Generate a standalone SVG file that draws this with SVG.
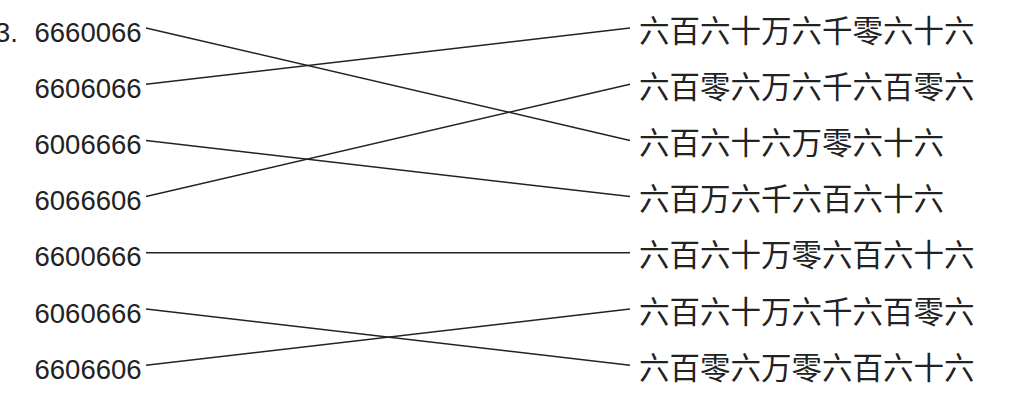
<svg xmlns="http://www.w3.org/2000/svg" width="1012" height="400" viewBox="0 0 1012 400">
<style>
.num{font-family:"Liberation Sans",Arial,sans-serif;font-size:27.5px;fill:#222}
.cn{font-family:"Noto Sans CJK SC","Noto Sans CJK JP",sans-serif;font-size:30.5px;fill:#222}
.ln{stroke:#222;stroke-width:1.5;fill:none}
</style>
<rect width="1012" height="400" fill="#fff"/>
<text class="num" x="-5" y="41.5">3.</text>
<g id="left">
<g id="L1"><text class="num" x="34.5" y="41.5">6660066</text></g>
<g id="L2"><text class="num" x="34.5" y="97.7">6606066</text></g>
<g id="L3"><text class="num" x="34.5" y="153.9">6006666</text></g>
<g id="L4"><text class="num" x="34.5" y="210.1">6066606</text></g>
<g id="L5"><text class="num" x="34.5" y="266.3">6600666</text></g>
<g id="L6"><text class="num" x="34.5" y="322.5">6060666</text></g>
<g id="L7"><text class="num" x="34.5" y="378.7">6606606</text></g>
</g>
<g id="right">
<g id="R1"><text class="cn" x="639" y="41.5">六百六十万六千零六十六</text></g>
<g id="R2"><text class="cn" x="639" y="97.7">六百零六万六千六百零六</text></g>
<g id="R3"><text class="cn" x="639" y="153.9">六百六十六万零六十六</text></g>
<g id="R4"><text class="cn" x="639" y="210.1">六百万六千六百六十六</text></g>
<g id="R5"><text class="cn" x="639" y="266.3">六百六十万零六百六十六</text></g>
<g id="R6"><text class="cn" x="639" y="322.5">六百六十万六千六百零六</text></g>
<g id="R7"><text class="cn" x="639" y="378.7">六百零六万零六百六十六</text></g>
</g>
<g id="connectors" class="ln">
<line x1="146" y1="28" x2="630" y2="140.4"/>
<line x1="146" y1="84.2" x2="630" y2="28"/>
<line x1="146" y1="140.4" x2="630" y2="196.6"/>
<line x1="146" y1="196.6" x2="630" y2="84.2"/>
<line x1="146" y1="252.8" x2="630" y2="252.8"/>
<line x1="146" y1="309" x2="630" y2="365.2"/>
<line x1="146" y1="365.2" x2="630" y2="309"/>
</g>
</svg>
